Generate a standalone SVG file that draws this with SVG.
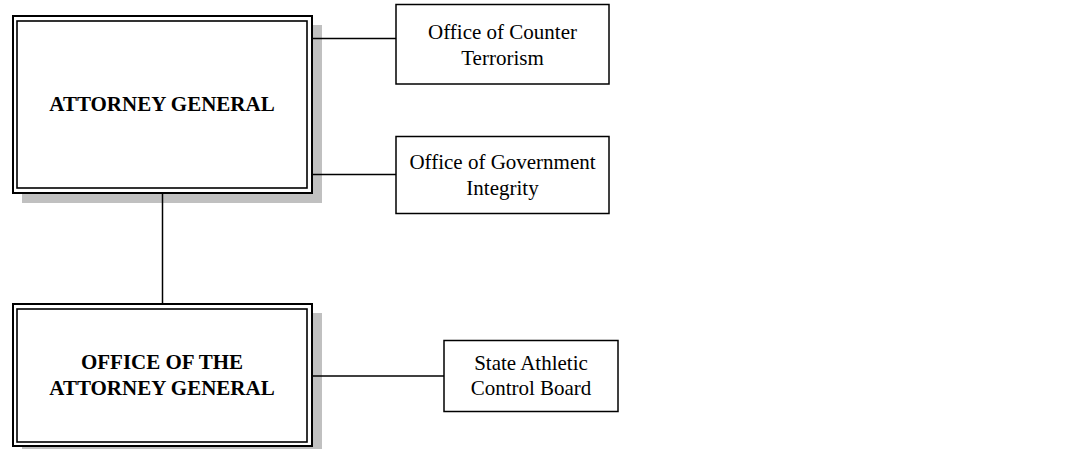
<svg xmlns="http://www.w3.org/2000/svg" width="1089" height="449" viewBox="0 0 1089 449">
  <style>
    .shadow { fill: #c0c0c0; }
    .outer { fill: #ffffff; stroke: #000000; stroke-width: 2; }
    .inner { fill: none; stroke: #000000; stroke-width: 1.6; }
    .box { fill: #ffffff; stroke: #000000; stroke-width: 1.5; }
    .conn { stroke: #000000; stroke-width: 1.5; fill: none; }
    .main { font-family: "Liberation Serif", "Times New Roman", serif; font-size: 21px; font-weight: bold; text-anchor: middle; fill: #000000; }
    .label { font-family: "Liberation Serif", "Times New Roman", serif; font-size: 21px; text-anchor: middle; fill: #000000; }
  </style>
  <rect width="1089" height="449" fill="#ffffff"/>

  <g id="attorney-general">
    <rect class="shadow" x="22" y="25" width="300" height="178"/>
    <rect class="outer" x="13" y="16" width="299" height="177"/>
    <rect class="inner" x="17" y="21" width="290" height="167"/>
    <text class="main" x="162" y="111">ATTORNEY GENERAL</text>
  </g>

  <g id="office-of-the-attorney-general">
    <rect class="shadow" x="22" y="313" width="300" height="143"/>
    <rect class="outer" x="13" y="304" width="299" height="142"/>
    <rect class="inner" x="17" y="309" width="290" height="133"/>
    <text class="main" x="162" y="369">OFFICE OF THE</text>
    <text class="main" x="162" y="395">ATTORNEY GENERAL</text>
  </g>

  <g id="office-of-counter-terrorism">
    <rect class="box" x="396" y="4.5" width="213" height="79.5"/>
    <text class="label" x="502.5" y="38.5">Office of Counter</text>
    <text class="label" x="502.5" y="64.5">Terrorism</text>
  </g>

  <g id="office-of-government-integrity">
    <rect class="box" x="396" y="136.5" width="213" height="77"/>
    <text class="label" x="502.5" y="169">Office of Government</text>
    <text class="label" x="502.5" y="194.5">Integrity</text>
  </g>

  <g id="state-athletic-control-board">
    <rect class="box" x="444" y="340.5" width="174" height="71"/>
    <text class="label" x="531" y="369.5">State Athletic</text>
    <text class="label" x="531" y="394.5">Control Board</text>
  </g>

  <!-- connectors sit on top of the drop shadows -->
  <g id="connectors">
    <line class="conn" x1="313" y1="38.5" x2="396" y2="38.5"/>
    <line class="conn" x1="313" y1="174.5" x2="396" y2="174.5"/>
    <line class="conn" x1="162.5" y1="194" x2="162.5" y2="303"/>
    <line class="conn" x1="313" y1="376" x2="444" y2="376"/>
  </g>
</svg>
